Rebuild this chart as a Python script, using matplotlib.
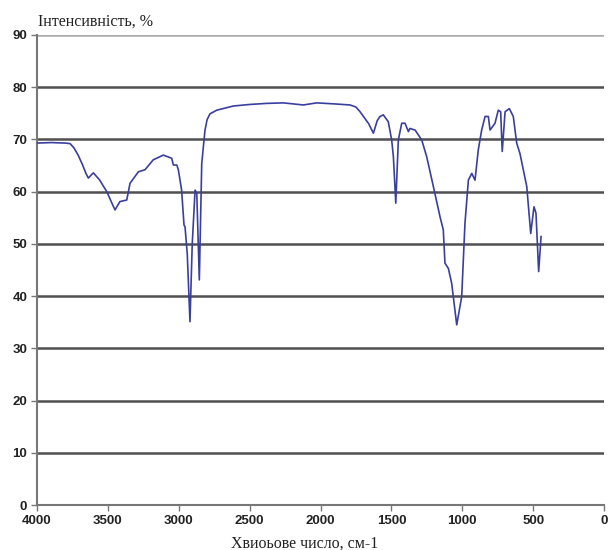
import matplotlib
matplotlib.use('Agg')
import matplotlib.pyplot as plt

# IR spectrum: wavenumber (cm-1) and intensity (%)
wavenumber = [4000, 3900, 3800, 3767, 3740, 3710, 3680, 3655, 3638, 3603, 3560, 3508,
              3475, 3450, 3415, 3367, 3344, 3285, 3238, 3180, 3109, 3050, 3038, 3014,
              3003, 2980, 2963, 2956, 2940, 2921, 2905, 2885, 2873, 2855, 2838, 2815,
              2800, 2780, 2732, 2615, 2497, 2380, 2262, 2121, 2027, 1900, 1792, 1750,
              1721, 1660, 1627, 1600, 1580, 1557, 1522, 1498, 1486, 1469, 1451, 1427,
              1404, 1380, 1369, 1333, 1286, 1251, 1204, 1157, 1134, 1122, 1098, 1075,
              1039, 1004, 981, 957, 933, 910, 887, 863, 839, 816, 804, 769,
              746, 729, 718, 698, 668, 640, 616, 593, 545, 517, 494, 480,
              461, 444]
intensity = [69.3, 69.4, 69.3, 69.2, 68.4, 67.0, 65.2, 63.5, 62.6, 63.6, 62.3, 60.0,
             58.0, 56.5, 58.1, 58.4, 61.6, 63.8, 64.2, 66.1, 67.0, 66.4, 65.1, 65.1,
             64.2, 60.3, 53.6, 53.3, 48.0, 35.1, 50.0, 60.3, 59.7, 43.1, 65.4, 71.8,
             73.8, 74.9, 75.6, 76.4, 76.7, 76.9, 77.0, 76.6, 77.0, 76.8, 76.6, 76.2,
             75.3, 73.0, 71.2, 73.6, 74.4, 74.7, 73.4, 69.9, 66.7, 57.8, 69.9, 73.1,
             73.1, 71.5, 72.1, 71.8, 69.9, 66.7, 61.0, 55.2, 52.7, 46.3, 45.3, 42.5,
             34.5, 39.9, 53.9, 62.2, 63.5, 62.2, 68.0, 71.8, 74.4, 74.4, 71.8, 73.1,
             75.6, 75.3, 67.7, 75.3, 75.9, 74.4, 69.3, 67.3, 61.0, 52.0, 57.1, 55.9,
             44.7, 51.4]

x_ticks = [4000, 3500, 3000, 2500, 2000, 1500, 1000, 500, 0]
y_ticks = [0, 10, 20, 30, 40, 50, 60, 70, 80, 90]

fig = plt.figure(figsize=(6.09, 5.5), dpi=100)
ax = fig.add_axes([0.0608, 0.0818, 0.931, 0.8546])

for yv in y_ticks[1:]:
    ax.axhline(yv, color='#505050' if yv < 90 else '#aaaaaa', lw=1.8, zorder=1)

ax.plot(wavenumber, intensity, color='#3a3f9e', lw=1.2, zorder=3)

ax.set_xlim(4000, 0)
ax.set_ylim(0, 90)
ax.set_xticks(x_ticks)
ax.set_yticks(y_ticks)
ax.tick_params(axis='both', direction='out', length=4, width=1, color='#777777',
               labelsize=9.5, labelcolor='#222222', pad=3)
for lbl in ax.get_xticklabels() + ax.get_yticklabels():
    lbl.set_family('Liberation Sans')
    lbl.set_fontweight('bold')

for side in ['top', 'right']:
    ax.spines[side].set_visible(False)
ax.spines['left'].set_color('#777777')
ax.spines['bottom'].set_color('#777777')
ax.spines['left'].set_linewidth(1.5)
ax.spines['bottom'].set_linewidth(1.5)

fig.text(0.062, 0.96, 'Інтенсивність, %', family='Liberation Serif', fontsize=11.5,
         color='#222222', ha='left', va='center')
fig.text(0.5, 0.012, 'Хвиоьове число, см-1', family='Liberation Serif', fontsize=11.5,
         color='#222222', ha='center', va='center')

fig.savefig('out.png', dpi=100)
